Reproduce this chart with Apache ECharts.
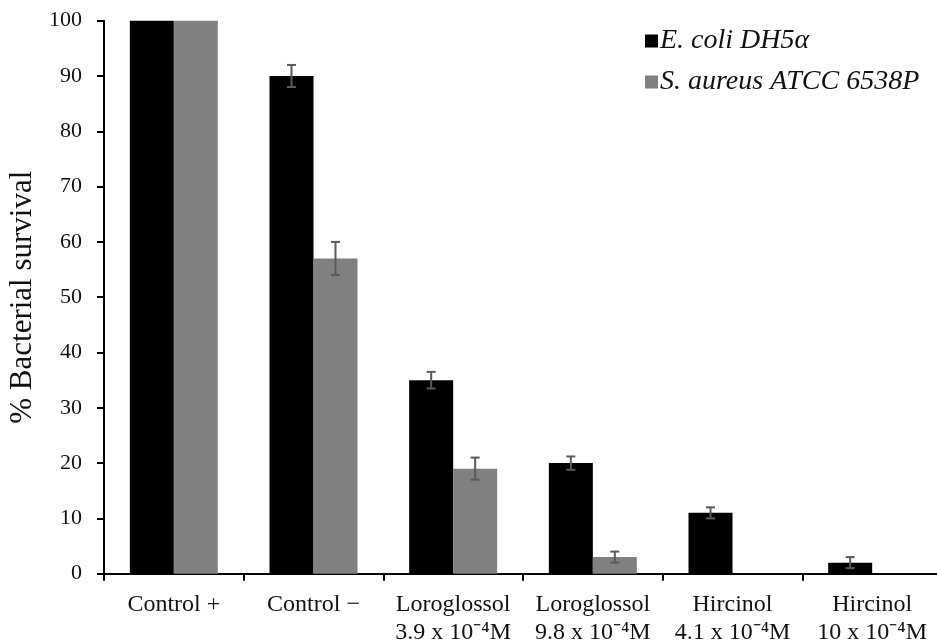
<!DOCTYPE html>
<html>
<head>
<meta charset="utf-8">
<script src="https://cdn.jsdelivr.net/npm/echarts@6/dist/echarts.min.js"></script>
<style>
  html, body { margin: 0; padding: 0; background: #fff; overflow: hidden; }
  #chart { width: 937px; height: 644px; }
</style>
</head>
<body>
<div id="chart"></div>
<script>
// Treatments (x categories)
const categories = [
  'Control +',
  'Control \u2212',
  'Loroglossol\n3.9 x 10\u207B\u2074M',
  'Loroglossol\n9.8 x 10\u207B\u2074M',
  'Hircinol\n4.1 x 10\u207B\u2074M',
  'Hircinol\n10 x 10\u207B\u2074M'
];

// % survival per strain
const ecoliValues = [100, 90, 35, 20, 11, 2];
const saureusValues = [100, 57, 19, 3, 0, 0];

// Standard deviations (null = no error bar)
const ecoliErrors = [null, 2, 1.5, 1.2, 1, 1];
const saureusErrors = [null, 3, 2, 1, null, null];

const seriesNames = ['E. coli DH5\u03B1', 'S. aureus ATCC 6538P'];
const yTicks = { min: 0, max: 100, interval: 10 };

const FONT = '"Liberation Serif", "Times New Roman", serif';
const BAR_SHARE = 0.315;

function errorData(values, errors) {
  const out = [];
  values.forEach((v, i) => {
    if (errors[i] != null) out.push([i, v - errors[i], v + errors[i]]);
  });
  return out;
}

// Draws a vertical whisker with caps, offset to sit over the matching bar
function makeErrorRender(side) {
  return function (params, api) {
    const idx = api.value(0);
    const lo = api.coord([idx, api.value(1)]);
    const hi = api.coord([idx, api.value(2)]);
    const band = api.size([1, 0])[0];
    const barW = band * BAR_SHARE;
    const x = lo[0] + side * barW / 2;
    const cap = 4.5;
    const style = { stroke: '#5a5a5a', lineWidth: 2 };
    return {
      type: 'group',
      children: [
        { type: 'line', shape: { x1: x, y1: hi[1], x2: x, y2: lo[1] }, style },
        { type: 'line', shape: { x1: x - cap, y1: hi[1], x2: x + cap, y2: hi[1] }, style },
        { type: 'line', shape: { x1: x - cap, y1: lo[1], x2: x + cap, y2: lo[1] }, style }
      ]
    };
  };
}

const chart = echarts.init(document.getElementById('chart'), null, { renderer: 'canvas' });

chart.setOption({
  animation: false,
  backgroundColor: '#ffffff',
  grid: {
    left: 104, width: 838, top: 20.7, height: 553,
    containLabel: false,
    outerBoundsMode: 'none'
  },
  legend: {
    orient: 'vertical',
    left: 640,
    top: 22,
    itemWidth: 13,
    itemHeight: 13,
    itemGap: 13,
    icon: 'rect',
    data: seriesNames,
    textStyle: { fontFamily: FONT, fontSize: 28, fontStyle: 'italic', color: '#111', padding: [0, 0, 0, -3] }
  },
  xAxis: {
    type: 'category',
    data: categories,
    axisLine: { lineStyle: { color: '#000', width: 2 } },
    axisTick: { show: true, length: 7, lineStyle: { color: '#000', width: 2 } },
    axisLabel: {
      fontFamily: FONT, fontSize: 24, color: '#111', lineHeight: 28, margin: 17, interval: 0
    }
  },
  yAxis: {
    type: 'value',
    min: yTicks.min,
    max: yTicks.max,
    interval: yTicks.interval,
    name: '% Bacterial survival',
    nameLocation: 'middle',
    nameGap: 61,
    nameTextStyle: { fontFamily: FONT, fontSize: 31, color: '#111' },
    axisLine: { show: true, lineStyle: { color: '#000', width: 2 } },
    axisTick: { show: true, length: 7, lineStyle: { color: '#000', width: 2 } },
    splitLine: { show: false },
    axisLabel: { fontFamily: FONT, fontSize: 22, color: '#111', margin: 22 }
  },
  series: [
    {
      name: seriesNames[0],
      type: 'bar',
      data: ecoliValues,
      barWidth: (BAR_SHARE * 100) + '%',
      barGap: '0%',
      itemStyle: { color: '#000000' }
    },
    {
      name: seriesNames[1],
      type: 'bar',
      data: saureusValues,
      barWidth: (BAR_SHARE * 100) + '%',
      barGap: '0%',
      itemStyle: { color: '#808080' }
    },
    {
      type: 'custom',
      name: 'ecoli-err',
      renderItem: makeErrorRender(-1),
      data: errorData(ecoliValues, ecoliErrors),
      encode: { x: 0, y: [1, 2] },
      z: 10,
      silent: true
    },
    {
      type: 'custom',
      name: 'saureus-err',
      renderItem: makeErrorRender(1),
      data: errorData(saureusValues, saureusErrors),
      encode: { x: 0, y: [1, 2] },
      z: 10,
      silent: true
    }
  ]
});
</script>
</body>
</html>
